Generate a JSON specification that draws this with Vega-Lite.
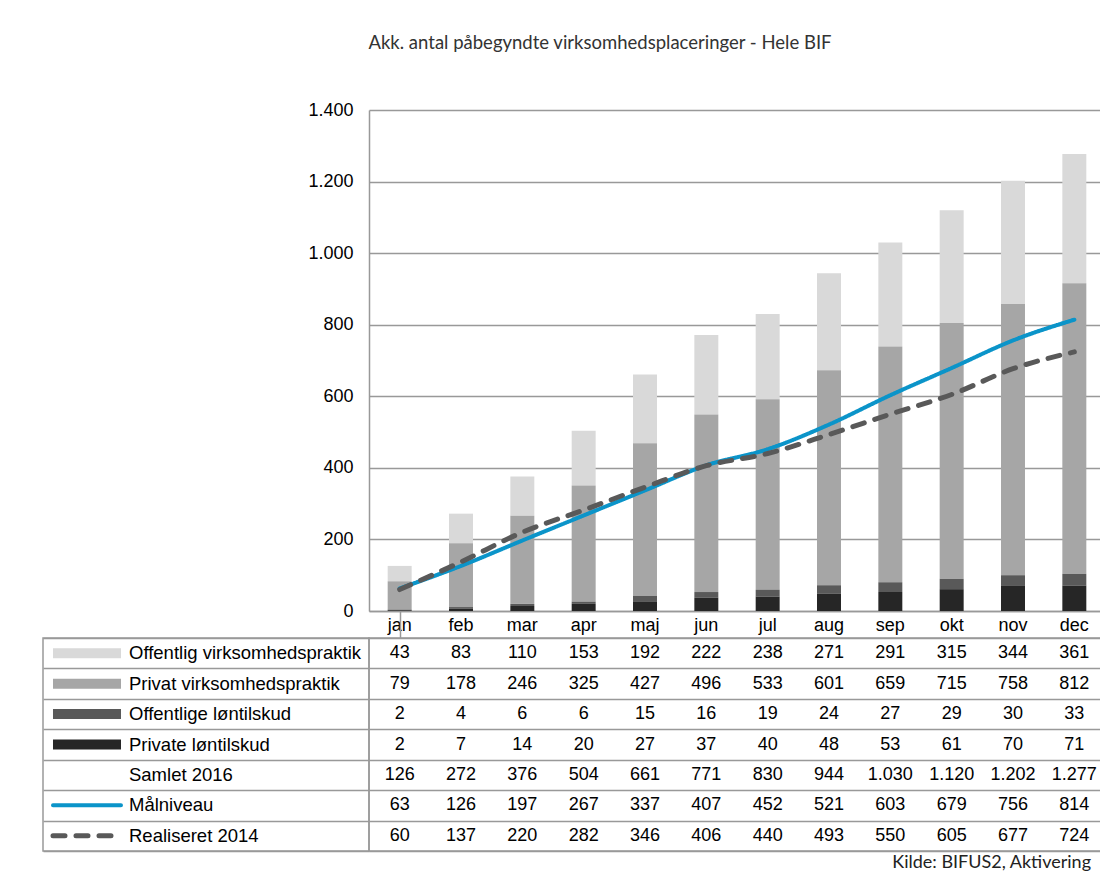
{
  "$schema": "https://vega.github.io/schema/vega-lite/v6.json",
  "padding": {"left": 42, "top": 33, "right": 0, "bottom": 0},
  "title": {"text": "Akk. antal påbegyndte virksomhedsplaceringer - Hele BIF", "font": "Lato", "fontSize": 18.5, "fontWeight": "normal", "color": "#333", "anchor": "middle", "dx": 26, "offset": 49},
  "config": {
    "locale": {"number": {"decimal": ",", "thousands": ".", "grouping": [3], "currency": ["", " kr."]}},
    "font": "Liberation Sans",
    "axis": {"labelFont": "Liberation Sans", "labelFontSize": 18, "labelColor": "#000", "domainColor": "#999", "domainWidth": 1.5, "gridColor": "#999", "gridWidth": 1.5, "ticks": false, "title": null},
    "legend": {"disable": true}
  },
  "datasets": {
    "d": [
      {"series": "Offentlig virksomhedspraktik", "month": "jan", "value": 43},
      {"series": "Offentlig virksomhedspraktik", "month": "feb", "value": 83},
      {"series": "Offentlig virksomhedspraktik", "month": "mar", "value": 110},
      {"series": "Offentlig virksomhedspraktik", "month": "apr", "value": 153},
      {"series": "Offentlig virksomhedspraktik", "month": "maj", "value": 192},
      {"series": "Offentlig virksomhedspraktik", "month": "jun", "value": 222},
      {"series": "Offentlig virksomhedspraktik", "month": "jul", "value": 238},
      {"series": "Offentlig virksomhedspraktik", "month": "aug", "value": 271},
      {"series": "Offentlig virksomhedspraktik", "month": "sep", "value": 291},
      {"series": "Offentlig virksomhedspraktik", "month": "okt", "value": 315},
      {"series": "Offentlig virksomhedspraktik", "month": "nov", "value": 344},
      {"series": "Offentlig virksomhedspraktik", "month": "dec", "value": 361},
      {"series": "Privat virksomhedspraktik", "month": "jan", "value": 79},
      {"series": "Privat virksomhedspraktik", "month": "feb", "value": 178},
      {"series": "Privat virksomhedspraktik", "month": "mar", "value": 246},
      {"series": "Privat virksomhedspraktik", "month": "apr", "value": 325},
      {"series": "Privat virksomhedspraktik", "month": "maj", "value": 427},
      {"series": "Privat virksomhedspraktik", "month": "jun", "value": 496},
      {"series": "Privat virksomhedspraktik", "month": "jul", "value": 533},
      {"series": "Privat virksomhedspraktik", "month": "aug", "value": 601},
      {"series": "Privat virksomhedspraktik", "month": "sep", "value": 659},
      {"series": "Privat virksomhedspraktik", "month": "okt", "value": 715},
      {"series": "Privat virksomhedspraktik", "month": "nov", "value": 758},
      {"series": "Privat virksomhedspraktik", "month": "dec", "value": 812},
      {"series": "Offentlige løntilskud", "month": "jan", "value": 2},
      {"series": "Offentlige løntilskud", "month": "feb", "value": 4},
      {"series": "Offentlige løntilskud", "month": "mar", "value": 6},
      {"series": "Offentlige løntilskud", "month": "apr", "value": 6},
      {"series": "Offentlige løntilskud", "month": "maj", "value": 15},
      {"series": "Offentlige løntilskud", "month": "jun", "value": 16},
      {"series": "Offentlige løntilskud", "month": "jul", "value": 19},
      {"series": "Offentlige løntilskud", "month": "aug", "value": 24},
      {"series": "Offentlige løntilskud", "month": "sep", "value": 27},
      {"series": "Offentlige løntilskud", "month": "okt", "value": 29},
      {"series": "Offentlige løntilskud", "month": "nov", "value": 30},
      {"series": "Offentlige løntilskud", "month": "dec", "value": 33},
      {"series": "Private løntilskud", "month": "jan", "value": 2},
      {"series": "Private løntilskud", "month": "feb", "value": 7},
      {"series": "Private løntilskud", "month": "mar", "value": 14},
      {"series": "Private løntilskud", "month": "apr", "value": 20},
      {"series": "Private løntilskud", "month": "maj", "value": 27},
      {"series": "Private løntilskud", "month": "jun", "value": 37},
      {"series": "Private løntilskud", "month": "jul", "value": 40},
      {"series": "Private løntilskud", "month": "aug", "value": 48},
      {"series": "Private løntilskud", "month": "sep", "value": 53},
      {"series": "Private løntilskud", "month": "okt", "value": 61},
      {"series": "Private løntilskud", "month": "nov", "value": 70},
      {"series": "Private løntilskud", "month": "dec", "value": 71},
      {"series": "Samlet 2016", "month": "jan", "value": 126},
      {"series": "Samlet 2016", "month": "feb", "value": 272},
      {"series": "Samlet 2016", "month": "mar", "value": 376},
      {"series": "Samlet 2016", "month": "apr", "value": 504},
      {"series": "Samlet 2016", "month": "maj", "value": 661},
      {"series": "Samlet 2016", "month": "jun", "value": 771},
      {"series": "Samlet 2016", "month": "jul", "value": 830},
      {"series": "Samlet 2016", "month": "aug", "value": 944},
      {"series": "Samlet 2016", "month": "sep", "value": 1030},
      {"series": "Samlet 2016", "month": "okt", "value": 1120},
      {"series": "Samlet 2016", "month": "nov", "value": 1202},
      {"series": "Samlet 2016", "month": "dec", "value": 1277},
      {"series": "Målniveau", "month": "jan", "value": 63},
      {"series": "Målniveau", "month": "feb", "value": 126},
      {"series": "Målniveau", "month": "mar", "value": 197},
      {"series": "Målniveau", "month": "apr", "value": 267},
      {"series": "Målniveau", "month": "maj", "value": 337},
      {"series": "Målniveau", "month": "jun", "value": 407},
      {"series": "Målniveau", "month": "jul", "value": 452},
      {"series": "Målniveau", "month": "aug", "value": 521},
      {"series": "Målniveau", "month": "sep", "value": 603},
      {"series": "Målniveau", "month": "okt", "value": 679},
      {"series": "Målniveau", "month": "nov", "value": 756},
      {"series": "Målniveau", "month": "dec", "value": 814},
      {"series": "Realiseret 2014", "month": "jan", "value": 60},
      {"series": "Realiseret 2014", "month": "feb", "value": 137},
      {"series": "Realiseret 2014", "month": "mar", "value": 220},
      {"series": "Realiseret 2014", "month": "apr", "value": 282},
      {"series": "Realiseret 2014", "month": "maj", "value": 346},
      {"series": "Realiseret 2014", "month": "jun", "value": 406},
      {"series": "Realiseret 2014", "month": "jul", "value": 440},
      {"series": "Realiseret 2014", "month": "aug", "value": 493},
      {"series": "Realiseret 2014", "month": "sep", "value": 550},
      {"series": "Realiseret 2014", "month": "okt", "value": 605},
      {"series": "Realiseret 2014", "month": "nov", "value": 677},
      {"series": "Realiseret 2014", "month": "dec", "value": 724}
    ]
  },
  "data": {"name": "d"},
  "bounds": "flush",
  "align": "each",
  "spacing": {"row": 27, "column": 0},
  "columns": 2,
  "concat": [
    {
      "width": 326, "height": 501, "view": {"stroke": null},
      "data": {"values": [{}]},
      "mark": {"type": "text"},
      "encoding": {"text": {"value": ""}}
    },
    {
      "width": 736, "height": 501, "view": {"stroke": null},
      "encoding": {
        "x": {"field": "month", "type": "nominal", "sort": null,
          "scale": {"paddingInner": 0.609, "paddingOuter": 0.3045},
          "axis": {"labelAngle": 0, "domain": true, "ticks": false, "labelPadding": 5, "grid": false}}
      },
      "layer": [
        {
          "transform": [
            {"filter": {"field": "series", "oneOf": ["Private løntilskud", "Offentlige løntilskud", "Privat virksomhedspraktik", "Offentlig virksomhedspraktik"]}},
            {"calculate": "indexof(['Private løntilskud', 'Offentlige løntilskud', 'Privat virksomhedspraktik', 'Offentlig virksomhedspraktik'], datum.series)", "as": "stackOrder"}
          ],
          "mark": {"type": "bar"},
          "encoding": {
            "y": {"field": "value", "type": "quantitative", "stack": "zero",
              "scale": {"domain": [0, 1400]},
              "axis": {"values": [0, 200, 400, 600, 800, 1000, 1200, 1400], "format": ",d", "labelPadding": 16, "grid": true, "domain": true}},
            "order": {"field": "stackOrder", "type": "quantitative", "sort": "ascending"},
            "color": {"field": "series", "type": "nominal",
              "scale": {"domain": ["Private løntilskud", "Offentlige løntilskud", "Privat virksomhedspraktik", "Offentlig virksomhedspraktik", "Målniveau", "Realiseret 2014"],
                "range": ["#262626", "#595959", "#a6a6a6", "#d9d9d9", "#0b94c9", "#595959"]}}
          }
        },
        {
          "transform": [{"filter": {"field": "series", "equal": "Målniveau"}}],
          "mark": {"type": "line", "interpolate": "monotone", "strokeWidth": 4, "strokeCap": "round"},
          "encoding": {
            "y": {"field": "value", "type": "quantitative"},
            "color": {"field": "series", "type": "nominal"},
            "strokeDash": {"field": "series", "type": "nominal", "scale": {"domain": ["Målniveau", "Realiseret 2014"], "range": [[1, 0], [12, 11]]}}
          }
        },
        {
          "transform": [{"filter": {"field": "series", "equal": "Realiseret 2014"}}],
          "mark": {"type": "line", "interpolate": "monotone", "strokeWidth": 5, "strokeCap": "round"},
          "encoding": {
            "y": {"field": "value", "type": "quantitative"},
            "color": {"field": "series", "type": "nominal"},
            "strokeDash": {"field": "series", "type": "nominal"}
          }
        }
      ]
    },
    {
      "width": 326, "height": 213, "view": {"stroke": "#999", "strokeWidth": 1.5},
      "transform": [{"filter": "datum.month === 'jan'"}],
      "encoding": {
        "y": {"field": "series", "type": "nominal",
          "scale": {"domain": ["Offentlig virksomhedspraktik", "Privat virksomhedspraktik", "Offentlige løntilskud", "Private løntilskud", "Samlet 2016", "Målniveau", "Realiseret 2014"], "paddingInner": 0, "paddingOuter": 0},
          "axis": {"grid": true, "tickBand": "extent", "labels": false, "domain": false, "ticks": false}}
      },
      "layer": [
        {
          "mark": {"type": "text", "align": "left", "baseline": "middle", "fontSize": 18.5, "font": "Liberation Sans", "color": "#000"},
          "encoding": {
            "x": {"datum": "label", "type": "nominal", "bandPosition": 0,
              "scale": {"domain": ["symbol", "label", "rest"], "paddingInner": 0.10526, "paddingOuter": 0.6974, "align": 0.0943}, "axis": null},
            "text": {"field": "series"}
          }
        },
        {
          "transform": [{"filter": {"field": "series", "oneOf": ["Private løntilskud", "Offentlige løntilskud", "Privat virksomhedspraktik", "Offentlig virksomhedspraktik"]}}],
          "mark": {"type": "rule", "strokeWidth": 10, "strokeCap": "butt"},
          "encoding": {
            "x": {"datum": "symbol", "type": "nominal", "bandPosition": 0},
            "x2": {"datum": "symbol", "bandPosition": 1},
            "color": {"field": "series", "type": "nominal"}
          }
        },
        {
          "transform": [{"filter": {"field": "series", "oneOf": ["Målniveau", "Realiseret 2014"]}}],
          "mark": {"type": "rule", "strokeCap": "round"},
          "encoding": {
            "x": {"datum": "symbol", "type": "nominal", "bandPosition": 0},
            "x2": {"datum": "symbol", "bandPosition": 1},
            "color": {"field": "series", "type": "nominal"},
            "strokeDash": {"field": "series", "type": "nominal"},
            "strokeWidth": {"condition": {"test": "datum.series === 'Realiseret 2014'", "value": 5}, "value": 4}
          }
        }
      ]
    },
    {
      "width": 736, "height": 213, "view": {"stroke": "#999", "strokeWidth": 1.5},
      "title": {"text": "Kilde: BIFUS2, Aktivering", "orient": "bottom", "anchor": "end", "font": "Lato", "fontSize": 18, "fontWeight": "normal", "color": "#222", "offset": 3, "dx": -14},
      "mark": {"type": "text", "fontSize": 18, "font": "Liberation Sans", "color": "#000", "baseline": "middle"},
      "encoding": {
        "x": {"field": "month", "type": "nominal", "sort": null, "scale": {"paddingInner": 0, "paddingOuter": 0},
          "axis": {"orient": "top", "labels": false, "domain": false, "grid": false, "ticks": true, "bandPosition": 0, "tickSize": 27, "tickWidth": 1.5,
            "tickColor": {"condition": {"test": "datum.value === 'jan'", "value": "#999"}, "value": "transparent"}}},
        "y": {"field": "series", "type": "nominal",
          "scale": {"domain": ["Offentlig virksomhedspraktik", "Privat virksomhedspraktik", "Offentlige løntilskud", "Private løntilskud", "Samlet 2016", "Målniveau", "Realiseret 2014"], "paddingInner": 0, "paddingOuter": 0},
          "axis": {"grid": true, "tickBand": "extent", "labels": false, "domain": false, "ticks": false}},
        "text": {"field": "value", "type": "quantitative", "format": ",d"}
      }
    }
  ]
}
